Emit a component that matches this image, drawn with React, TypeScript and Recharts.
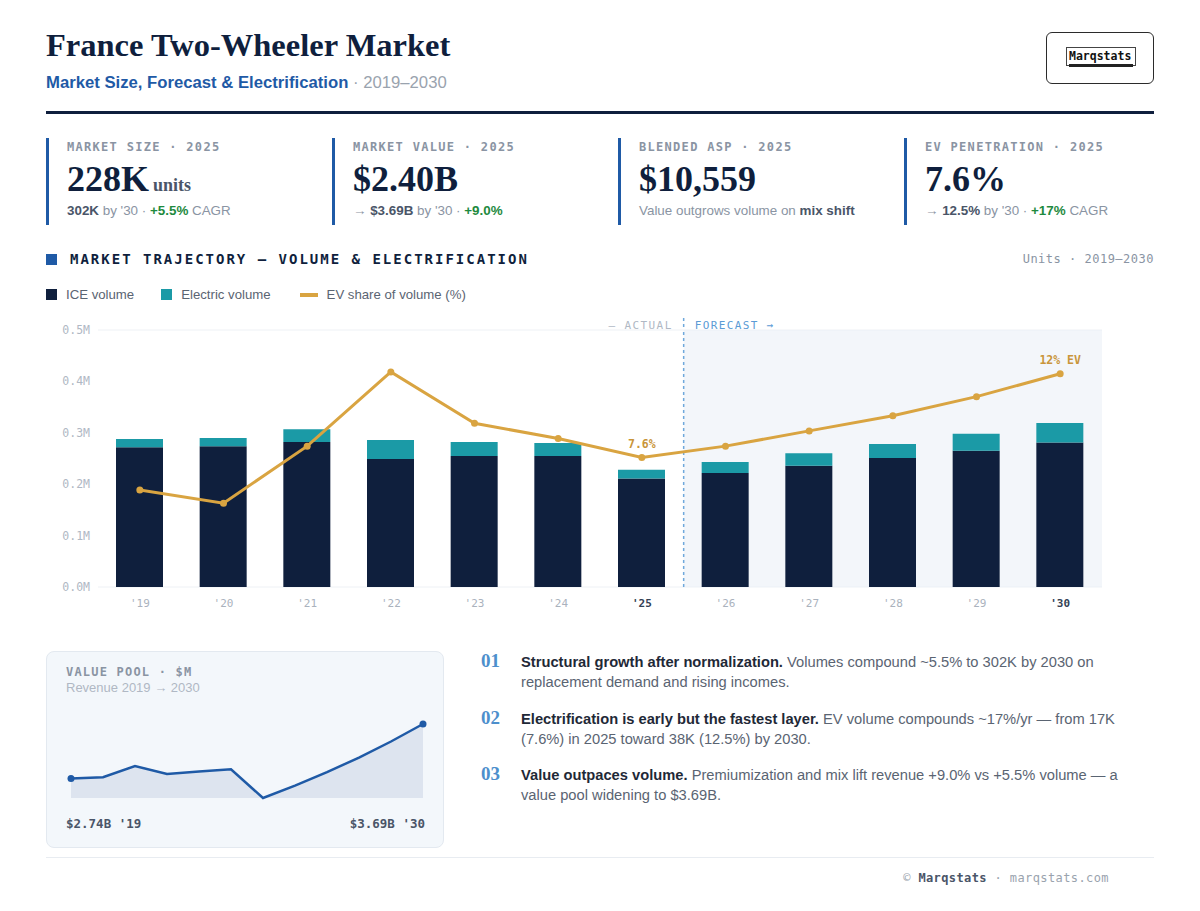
import {
  Area,
  AreaChart,
  Bar,
  CartesianGrid,
  ComposedChart,
  LabelList,
  Line,
  ReferenceArea,
  ReferenceLine,
  XAxis,
  YAxis,
} from "recharts";

// Annual two-wheeler volumes, thousands of units
const years = ["'19", "'20", "'21", "'22", "'23", "'24", "'25", "'26", "'27", "'28", "'29", "'30"];
const iceVolume = [272, 274, 282, 249, 255, 255, 211, 222, 236, 251, 265, 281];
const evVolume = [16, 16, 25, 37, 27, 25, 17, 21, 24, 27, 33, 38];
const evShare = [5.9, 5.2, 8.2, 12.1, 9.4, 8.6, 7.6, 8.2, 9.0, 9.8, 10.8, 12.0];
const volumeTicks = [0, 100, 200, 300, 400, 500];
const highlightYears = ["'25", "'30"];

// Revenue pool, $M
const revenue = [2740, 2763, 2958, 2820, 2861, 2901, 2400, 2615, 2850, 3105, 3385, 3690];

const NAVY = "#0f1f3d";
const TEAL = "#1b9aa6";
const GOLD = "#d9a441";
const BLUE = "#1f5aa6";
const MONO = "'DejaVu Sans Mono', monospace";
const SANS = "'Liberation Sans', Arial, sans-serif";
const SERIF = "'Liberation Serif', 'Times New Roman', serif";

const chartData = years.map((year, i) => ({
  year,
  ice: iceVolume[i],
  ev: evVolume[i],
  share: evShare[i],
}));

const poolData = years.map((year, i) => ({ year, value: revenue[i] }));

const kpis = [
  {
    label: "MARKET SIZE · 2025",
    value: "228K",
    unit: "units",
    sub: (
      <>
        <b style={{ color: "#4a5568" }}>302K</b> by '30 · <b style={{ color: "#1e8a3e" }}>+5.5%</b> CAGR
      </>
    ),
  },
  {
    label: "MARKET VALUE · 2025",
    value: "$2.40B",
    sub: (
      <>
        → <b style={{ color: "#4a5568" }}>$3.69B</b> by '30 · <b style={{ color: "#1e8a3e" }}>+9.0%</b>
      </>
    ),
  },
  {
    label: "BLENDED ASP · 2025",
    value: "$10,559",
    sub: (
      <>
        Value outgrows volume on <b style={{ color: "#4a5568" }}>mix shift</b>
      </>
    ),
  },
  {
    label: "EV PENETRATION · 2025",
    value: "7.6%",
    sub: (
      <>
        → <b style={{ color: "#4a5568" }}>12.5%</b> by '30 · <b style={{ color: "#1e8a3e" }}>+17%</b> CAGR
      </>
    ),
  },
];

const notes = [
  {
    head: "Structural growth after normalization.",
    lines: ["Volumes compound ~5.5% to 302K by 2030 on", "replacement demand and rising incomes."],
  },
  {
    head: "Electrification is early but the fastest layer.",
    lines: ["EV volume compounds ~17%/yr — from 17K", "(7.6%) in 2025 toward 38K (12.5%) by 2030."],
  },
  {
    head: "Value outpaces volume.",
    lines: ["Premiumization and mix lift revenue +9.0% vs +5.5% volume — a", "value pool widening to $3.69B."],
  },
];

function YearTick({ x, y, payload }: any) {
  const strong = highlightYears.includes(payload.value);
  return (
    <text
      x={x}
      y={y + 12}
      textAnchor="middle"
      fontFamily={MONO}
      fontSize={11}
      fontWeight={strong ? 700 : 400}
      fill={strong ? "#334155" : "#aab2bd"}
    >
      {payload.value}
    </text>
  );
}

function ShareLabel(props: any) {
  const { x, y, index, value } = props;
  if (index !== 6 && index !== 11) return null;
  const text = index === 11 ? `${Math.round(value)}% EV` : `${value}%`;
  return (
    <text
      x={x}
      y={y - 10}
      textAnchor="middle"
      fontFamily={MONO}
      fontSize={11.5}
      fontWeight={700}
      fill="#c9953a"
    >
      {text}
    </text>
  );
}

function ForecastDivider(props: any) {
  const { viewBox } = props;
  const x = viewBox.x;
  const y = viewBox.y;
  return (
    <g>
      <line x1={x} x2={x} y1={y - 12} y2={y} stroke="#6fa8dc" strokeWidth={1.5} strokeDasharray="3 3" />
      <text x={x - 11} y={y - 1} textAnchor="end" fontFamily={MONO} fontSize={11} letterSpacing={1.4} fill="#b0b8c4">
        — ACTUAL
      </text>
      <text x={x + 11} y={y - 1} textAnchor="start" fontFamily={MONO} fontSize={11} letterSpacing={1.4} fill="#5b9bd5">
        FORECAST →
      </text>
    </g>
  );
}

function PoolDot(props: any) {
  const { cx, cy, index } = props;
  if (index !== 0 && index !== revenue.length - 1) return null;
  return <circle cx={cx} cy={cy} r={3.5} fill={BLUE} />;
}

export default function App() {
  return (
    <div
      style={{
        position: "absolute",
        left: 0,
        top: 0,
        width: 1200,
        height: 911,
        background: "#ffffff",
        fontFamily: SANS,
        overflow: "hidden",
      }}
    >
      {/* header */}
      <div style={{ position: "absolute", left: 46, top: 27, fontFamily: SERIF, fontWeight: 700, fontSize: 32.5, color: NAVY }}>
        France Two-Wheeler Market
      </div>
      <div style={{ position: "absolute", left: 46, top: 73, fontSize: 16.7, color: BLUE, fontWeight: 700 }}>
        Market Size, Forecast &amp; Electrification
        <span style={{ color: "#9aa3ae", fontWeight: 400 }}> · 2019–2030</span>
      </div>
      <div
        style={{
          position: "absolute",
          left: 1046,
          top: 32,
          width: 106,
          height: 50,
          border: "1.5px solid #2b2b2b",
          borderRadius: 6,
        }}
      >
        <div
          style={{
            position: "absolute",
            left: 19,
            top: 14,
            width: 70,
            height: 19,
            border: "1.2px solid #444",
            boxSizing: "border-box",
          }}
        />
        <div style={{ position: "absolute", left: 22, top: 16, fontFamily: MONO, fontWeight: 700, fontSize: 11.5, color: "#111" }}>
          Marqstats
        </div>
        <div style={{ position: "absolute", left: 22, top: 31, width: 64, height: 3, background: "#222" }} />
      </div>
      <div style={{ position: "absolute", left: 46, top: 111, width: 1108, height: 3, background: NAVY }} />

      {/* KPI strip */}
      {kpis.map((k, i) => (
        <div
          key={k.label}
          style={{
            position: "absolute",
            left: 46 + i * 286,
            top: 138,
            width: 270,
            height: 87,
            borderLeft: `3px solid ${BLUE}`,
            paddingLeft: 18,
            boxSizing: "border-box",
          }}
        >
          <div style={{ position: "absolute", left: 18, top: 2, fontFamily: MONO, fontWeight: 700, fontSize: 12, letterSpacing: 1.3, color: "#8a94a3" }}>
            {k.label}
          </div>
          <div style={{ position: "absolute", left: 18, top: 20, fontFamily: SERIF, fontWeight: 700, fontSize: 36, color: NAVY, whiteSpace: "nowrap" }}>
            {k.value}
            {k.unit && <span style={{ fontSize: 18, color: "#4a5568", marginLeft: 4 }}>{k.unit}</span>}
          </div>
          <div style={{ position: "absolute", left: 18, top: 65, fontSize: 13.4, color: "#8a94a3", whiteSpace: "nowrap" }}>{k.sub}</div>
        </div>
      ))}

      {/* section header */}
      <div style={{ position: "absolute", left: 46, top: 254, width: 11, height: 11, background: BLUE }} />
      <div style={{ position: "absolute", left: 70, top: 251, fontFamily: MONO, fontWeight: 700, fontSize: 14, letterSpacing: 2, color: NAVY }}>
        MARKET TRAJECTORY — VOLUME &amp; ELECTRIFICATION
      </div>
      <div style={{ position: "absolute", right: 46, top: 252, fontFamily: MONO, fontSize: 12, letterSpacing: 0.5, color: "#8a94a3" }}>
        Units · 2019–2030
      </div>

      {/* legend */}
      <div style={{ position: "absolute", left: 46, top: 287, display: "flex", alignItems: "center", fontSize: 13.2, color: "#5a6472" }}>
        <span style={{ width: 11, height: 11, background: NAVY, display: "inline-block", marginRight: 9 }} />
        <span style={{ marginRight: 27 }}>ICE volume</span>
        <span style={{ width: 11, height: 11, background: TEAL, display: "inline-block", marginRight: 9 }} />
        <span style={{ marginRight: 29 }}>Electric volume</span>
        <span style={{ width: 18, height: 4, background: GOLD, display: "inline-block", marginRight: 9 }} />
        <span>EV share of volume (%)</span>
      </div>

      {/* main chart */}
      <div style={{ position: "absolute", left: 46, top: 310 }}>
        <ComposedChart width={1070} height={310} data={chartData} margin={{ top: 20, right: 14, bottom: 3, left: 0 }}>
          <CartesianGrid stroke="#eef1f5" vertical={false} />
          <ReferenceArea x1="'26" x2="'30" yAxisId="vol" fill="#e9eff6" fillOpacity={0.55} stroke="none" ifOverflow="visible" />
          <XAxis dataKey="year" axisLine={false} tickLine={false} height={30} tick={<YearTick />} interval={0} />
          <YAxis
            yAxisId="vol"
            width={52}
            domain={[0, 500]}
            ticks={volumeTicks}
            axisLine={false}
            tickLine={false}
            tick={{ fill: "#b0b8c4", fontSize: 11.5, fontFamily: MONO }}
            tickFormatter={(v: number) => `${(v / 1000).toFixed(1)}M`}
          />
          <YAxis yAxisId="share" orientation="right" hide domain={[0.8, 14.3]} />
          <Bar dataKey="ice" stackId="v" yAxisId="vol" fill={NAVY} barSize={47} isAnimationActive={false} />
          <Bar dataKey="ev" stackId="v" yAxisId="vol" fill={TEAL} barSize={47} isAnimationActive={false} />
          <ReferenceLine
            x="'26"
            yAxisId="vol"
            position="start"
            stroke="#6fa8dc"
            strokeWidth={1.5}
            strokeDasharray="3 3"
            label={<ForecastDivider />}
          />
          <Line
            dataKey="share"
            yAxisId="share"
            type="linear"
            stroke={GOLD}
            strokeWidth={3}
            dot={{ r: 3.5, fill: GOLD, stroke: "none" }}
            activeDot={false}
            isAnimationActive={false}
          >
            <LabelList dataKey="share" content={<ShareLabel />} />
          </Line>
        </ComposedChart>
      </div>

      {/* value pool card */}
      <div
        style={{
          position: "absolute",
          left: 46,
          top: 651,
          width: 398,
          height: 197,
          background: "#f3f7fb",
          border: "1px solid #e3e9f0",
          borderRadius: 8,
          boxSizing: "border-box",
        }}
      />
      <div style={{ position: "absolute", left: 66, top: 665, fontFamily: MONO, fontWeight: 700, fontSize: 12, letterSpacing: 1.2, color: "#8a94a3" }}>
        VALUE POOL · $M
      </div>
      <div style={{ position: "absolute", left: 66, top: 680, fontSize: 13, color: "#b0b8c4" }}>Revenue 2019 → 2030</div>
      <div style={{ position: "absolute", left: 67, top: 720 }}>
        <AreaChart width={360} height={82} data={poolData} margin={{ top: 4, right: 4, bottom: 4, left: 4 }}>
          <XAxis dataKey="year" hide />
          <YAxis hide domain={["dataMin", "dataMax"]} />
          <Area
            type="linear"
            dataKey="value"
            baseValue="dataMin"
            stroke={BLUE}
            strokeWidth={2.5}
            fill="#dde4ef"
            fillOpacity={1}
            dot={<PoolDot />}
            activeDot={false}
            isAnimationActive={false}
          />
        </AreaChart>
      </div>
      <div style={{ position: "absolute", left: 66, top: 816, fontFamily: MONO, fontWeight: 700, fontSize: 12.5, color: "#4a5568" }}>
        $2.74B '19
      </div>
      <div style={{ position: "absolute", right: 775, top: 816, fontFamily: MONO, fontWeight: 700, fontSize: 12.5, color: "#4a5568" }}>
        $3.69B '30
      </div>

      {/* takeaways */}
      {notes.map((n, i) => (
        <div key={n.head} style={{ position: "absolute", left: 481, top: 650 + i * 56.5 }}>
          <div style={{ position: "absolute", left: 0, top: 0, fontFamily: SERIF, fontWeight: 700, fontSize: 19, color: "#4d8fcc" }}>
            {String(i + 1).padStart(2, "0")}
          </div>
          <div style={{ position: "absolute", left: 40, top: 2, width: 640, fontSize: 14.7, lineHeight: "20px", color: "#5a6472" }}>
            <b style={{ color: "#1f2937" }}>{n.head}</b> {n.lines[0]}
            <br />
            {n.lines[1]}
          </div>
        </div>
      ))}

      {/* footer */}
      <div style={{ position: "absolute", left: 46, top: 857, width: 1108, height: 1, background: "#e8ecf1" }} />
      <div style={{ position: "absolute", right: 91, top: 871, fontFamily: MONO, fontSize: 12, letterSpacing: 0.4, color: "#9aa3ae" }}>
        © <b style={{ color: "#4a5568" }}>Marqstats</b> · marqstats.com
      </div>
    </div>
  );
}
